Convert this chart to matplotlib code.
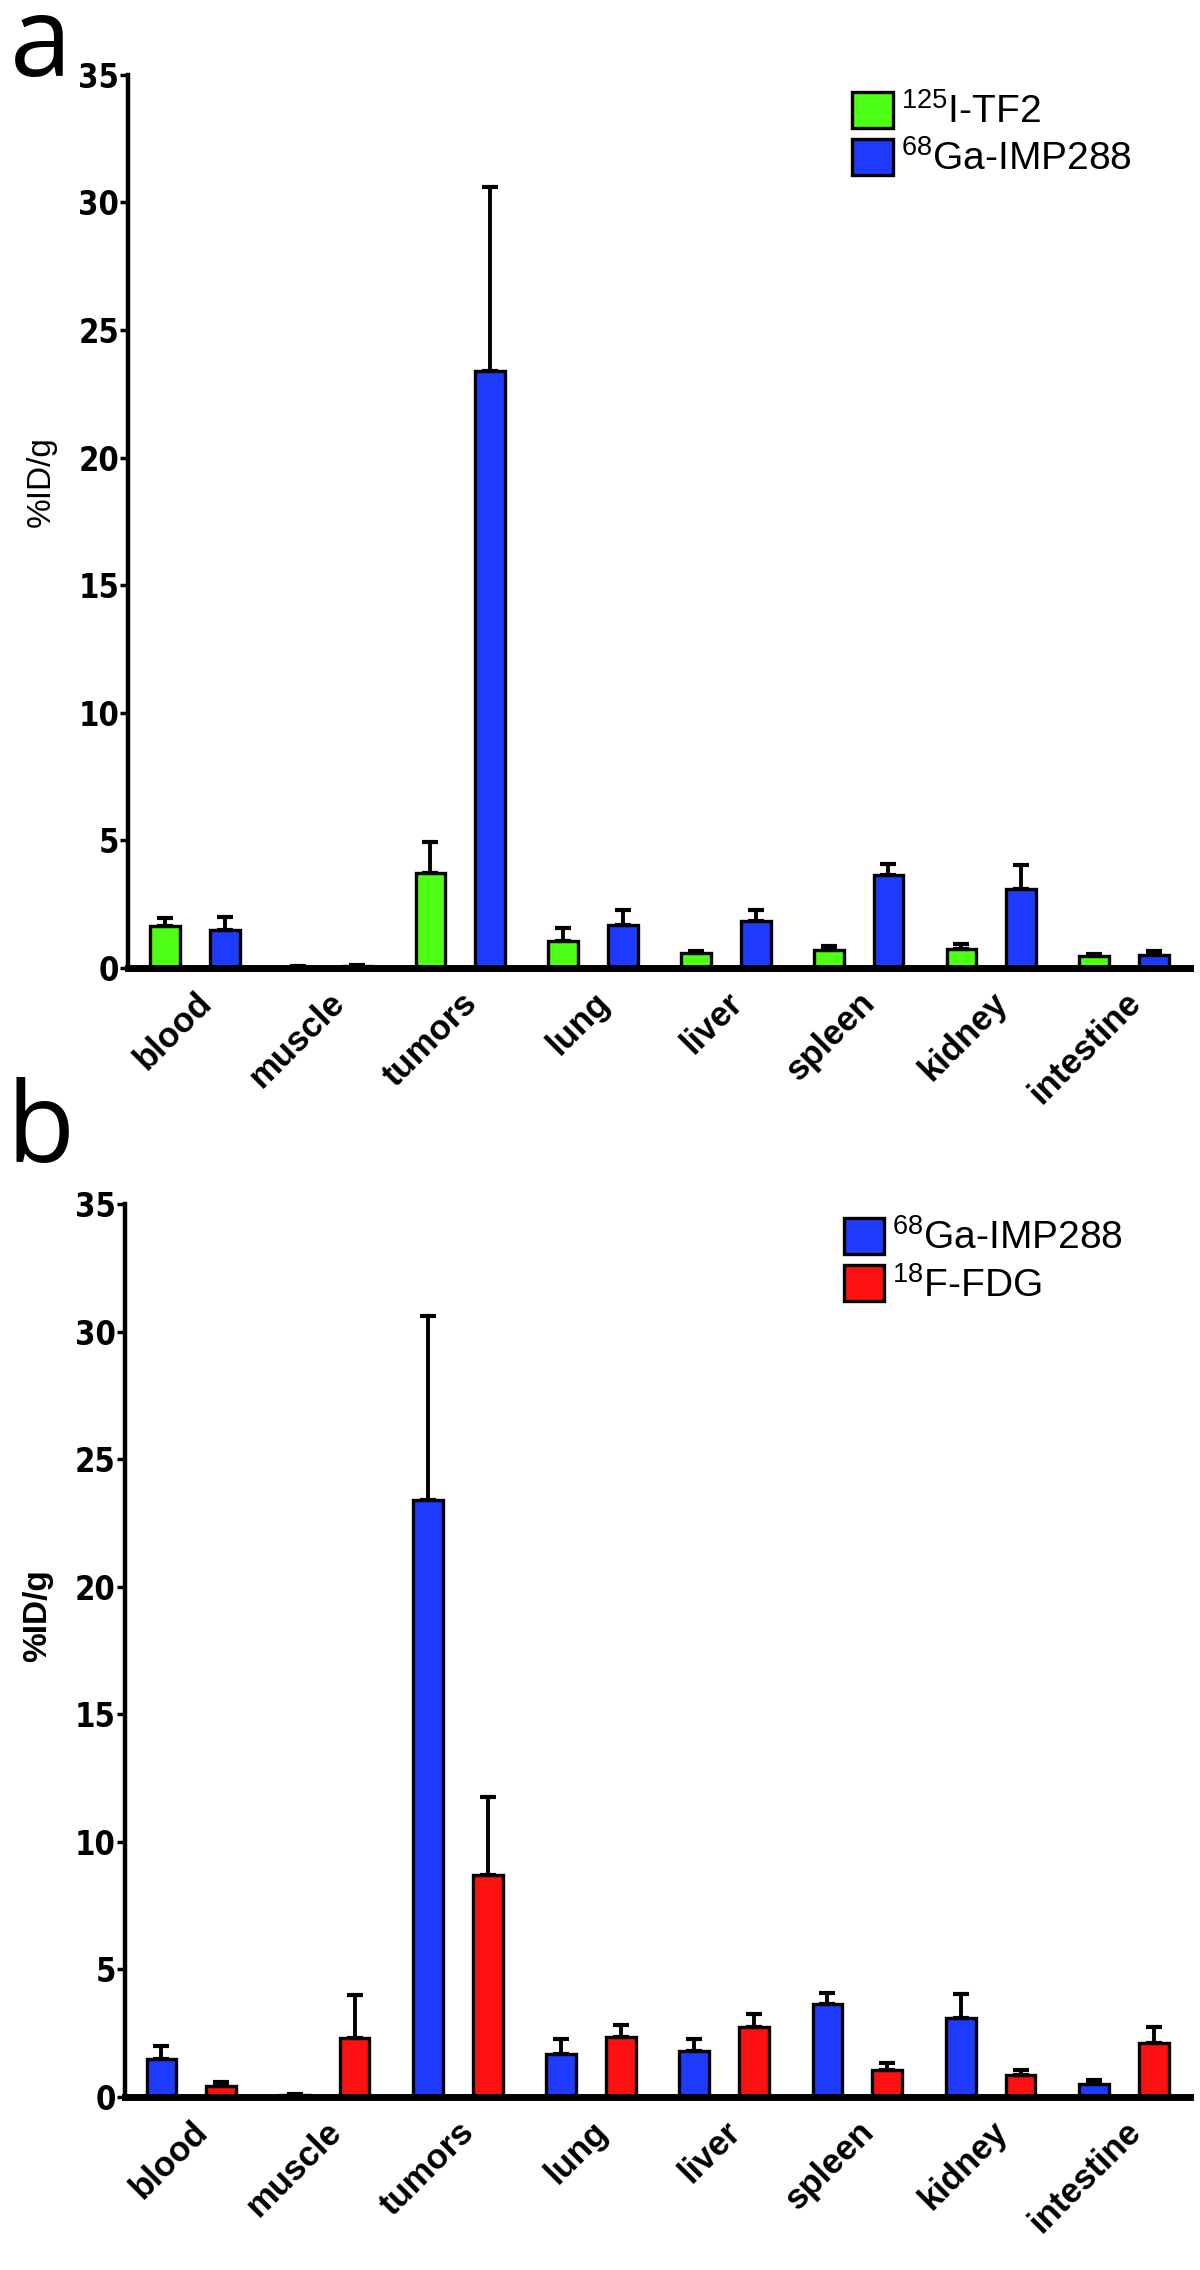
import numpy as np
import matplotlib
matplotlib.use('Agg')
import matplotlib.pyplot as plt
from matplotlib import font_manager

plt.rcParams['font.family'] = ['Liberation Sans', 'DejaVu Sans']
plt.rcParams['mathtext.default'] = 'regular'

organs = ['blood', 'muscle', 'tumors', 'lung', 'liver', 'spleen', 'kidney', 'intestine']

# panel a / b values (%ID/g) and upper SD
tf2_mean = [1.64, 0.05, 3.72, 1.05, 0.57, 0.70, 0.74, 0.46]
tf2_sd = [0.31, 0.02, 1.20, 0.53, 0.11, 0.16, 0.21, 0.07]
imp288_mean = [1.49, 0.08, 23.4, 1.70, 1.82, 3.63, 3.11, 0.50]
imp288_sd = [0.52, 0.02, 7.2, 0.56, 0.44, 0.46, 0.92, 0.16]
fdg_mean = [0.45, 2.33, 8.70, 2.36, 2.75, 1.07, 0.88, 2.13]
fdg_sd = [0.14, 1.66, 3.05, 0.48, 0.52, 0.27, 0.19, 0.62]

label_tf2 = r'$^{125}$I-TF2'
label_imp = r'$^{68}$Ga-IMP288'
label_fdg = r'$^{18}$F-FDG'

green = '#4cff14'
blue = '#1f3bff'
red = '#ff1010'

# condensed bold for the y tick numbers
tick_fp = font_manager.FontProperties(family='DejaVu Sans', stretch='condensed', weight='bold', size=23.5)

fig = plt.figure(figsize=(12, 22.7), dpi=100)


def draw_panel(ax, m1, s1, c1, l1, m2, s2, c2, l2, ylabel_weight, ylabel_y):
    x = np.arange(len(organs))
    w = 0.224
    off = 0.225
    ekw = dict(ecolor='black', elinewidth=2.8, capsize=6, capthick=3)
    ax.bar(x - off, m1, w, color=c1, edgecolor='black', linewidth=2.4, label=l1,
           yerr=[np.zeros(len(s1)), s1], error_kw=ekw, zorder=3)
    ax.bar(x + off, m2, w, color=c2, edgecolor='black', linewidth=2.4, label=l2,
           yerr=[np.zeros(len(s2)), s2], error_kw=ekw, zorder=3)
    ax.set_xlim(-0.5, 7.5)
    ax.set_ylim(0, 35)
    ax.set_yticks(np.arange(0, 36, 5))
    ax.spines['top'].set_visible(False)
    ax.spines['right'].set_visible(False)
    ax.spines['left'].set_linewidth(3.2)
    ax.spines['bottom'].set_linewidth(5)
    ax.spines['bottom'].set_zorder(5)
    ax.tick_params(axis='y', length=5.5, width=2.5, direction='out', pad=1)
    ax.tick_params(axis='x', length=0, pad=13)
    for t in ax.get_yticklabels():
        t.set_fontproperties(tick_fp)
    ax.set_xticks(x)
    ax.set_xticklabels(organs, rotation=45, ha='right', va='top', rotation_mode='anchor',
                       fontsize=25, fontweight='bold')
    ax.set_ylabel('%ID/g', fontsize=24, fontweight=ylabel_weight)
    ax.yaxis.set_label_coords(-0.067, ylabel_y)


ax1 = fig.add_axes([0.107, 0.5736, 0.885, 0.3934])
draw_panel(ax1, tf2_mean, tf2_sd, green, label_tf2,
           imp288_mean, imp288_sd, blue, label_imp, 'normal', 0.545)
leg1 = ax1.legend(loc='upper left', bbox_to_anchor=(0.71, 0.9595), bbox_transform=fig.transFigure,
                  frameon=False, fontsize=28, handlelength=1.05, handleheight=1.05,
                  handletextpad=0.2, labelspacing=0.2, borderpad=0, borderaxespad=0)

ax2 = fig.add_axes([0.104, 0.0762, 0.888, 0.3934])
draw_panel(ax2, imp288_mean, imp288_sd, blue, label_imp,
           fdg_mean, fdg_sd, red, label_fdg, 'bold', 0.539)
leg2 = ax2.legend(loc='upper left', bbox_to_anchor=(0.703, 0.4634), bbox_transform=fig.transFigure,
                  frameon=False, fontsize=28, handlelength=1.05, handleheight=1.05,
                  handletextpad=0.2, labelspacing=0.2, borderpad=0, borderaxespad=0)

fig.text(0.008, 0.9667, 'a', fontsize=80, family='Open Sans', va='baseline')
fig.text(0.005, 0.488, 'b', fontsize=80, family='Open Sans', va='baseline')

fig.savefig('out.png', dpi=100)
